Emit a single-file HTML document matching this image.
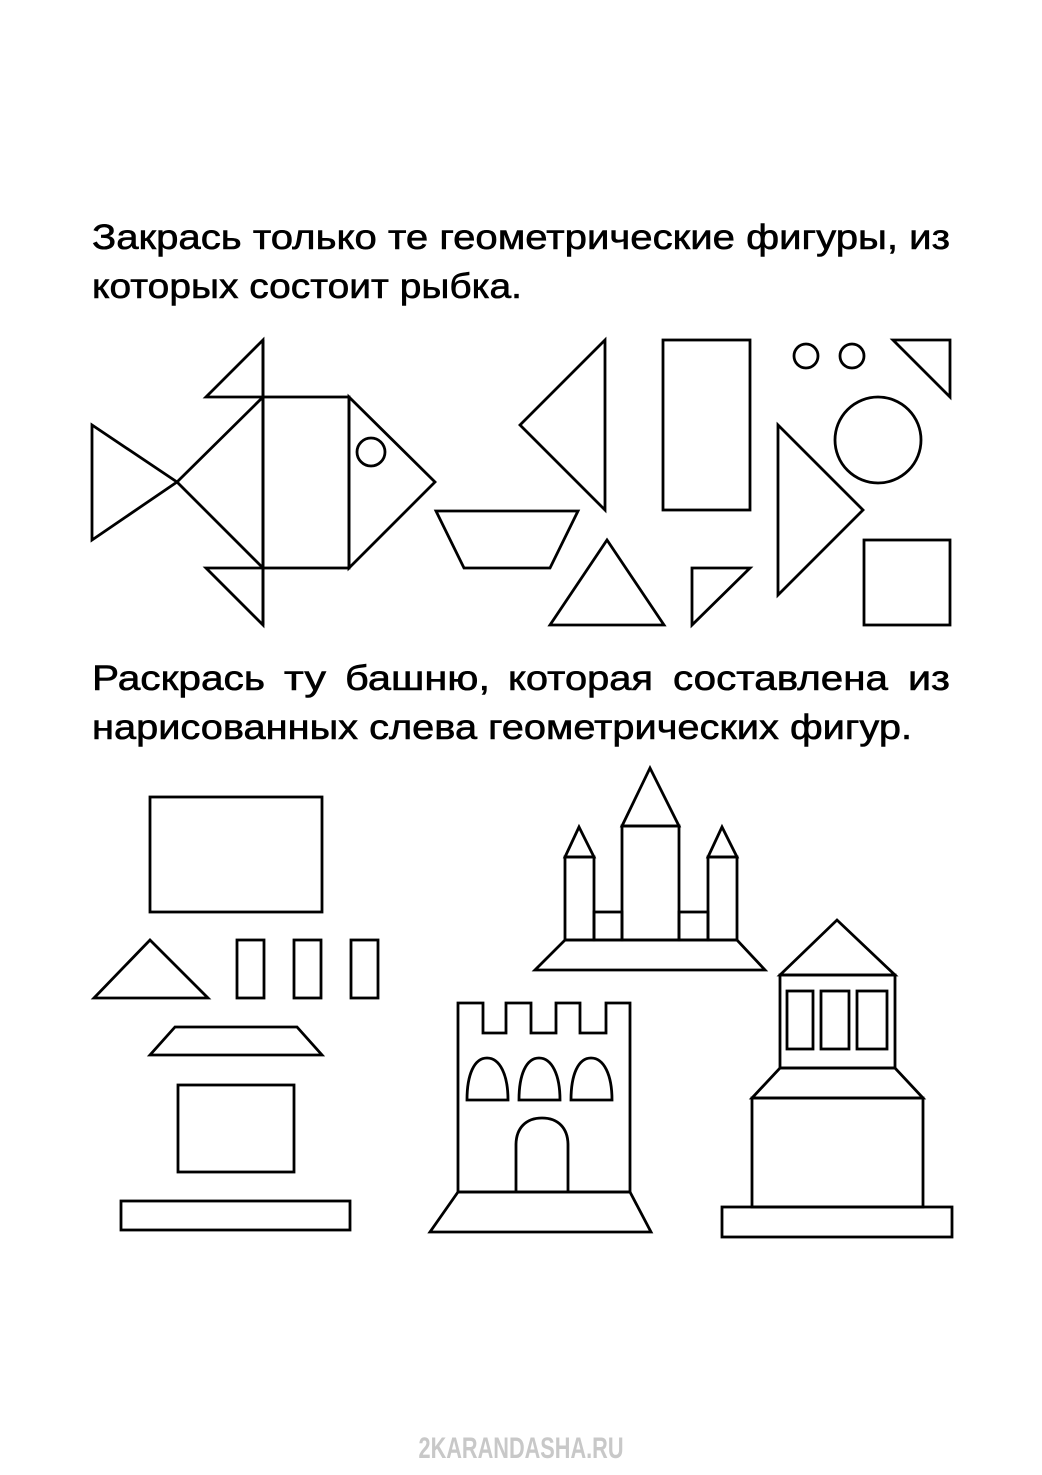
<!DOCTYPE html>
<html><head><meta charset="utf-8"><style>
html,body{margin:0;padding:0;background:#fff}
svg{display:block}
text{font-family:"Liberation Sans",sans-serif;font-size:35px;fill:#000;stroke:#000;stroke-width:0.6}
</style></head><body>
<svg width="1042" height="1475" viewBox="0 0 1042 1475" xmlns="http://www.w3.org/2000/svg">
<rect width="1042" height="1475" fill="#fff"/>
<text x="92" y="249" textLength="858" lengthAdjust="spacingAndGlyphs">Закрась только те геометрические фигуры, из</text>
<text x="92" y="298" textLength="430" lengthAdjust="spacingAndGlyphs">которых состоит рыбка.</text>
<text x="92" y="690" textLength="173" lengthAdjust="spacingAndGlyphs">Раскрась</text>
<text x="284" y="690" textLength="42" lengthAdjust="spacingAndGlyphs">ту</text>
<text x="345" y="690" textLength="145" lengthAdjust="spacingAndGlyphs">башню,</text>
<text x="508" y="690" textLength="145" lengthAdjust="spacingAndGlyphs">которая</text>
<text x="673" y="690" textLength="215" lengthAdjust="spacingAndGlyphs">составлена</text>
<text x="908" y="690" textLength="42" lengthAdjust="spacingAndGlyphs">из</text>
<text x="92" y="739" textLength="820" lengthAdjust="spacingAndGlyphs">нарисованных слева геометрических фигур.</text>
<g fill="none" stroke="#000" stroke-width="2.8" stroke-linejoin="miter">
<polygon points="92,425 92,540 177,482"/>
<line x1="263" y1="340" x2="263" y2="625"/>
<polygon points="263,340 206,397 263,397"/>
<polygon points="206,568 263,568 263,625"/>
<polygon points="263,397 263,568 177,482"/>
<rect x="263" y="397" width="86" height="171"/>
<polygon points="349,397 435,482 349,568"/>
<circle cx="371" cy="452" r="14"/>
<polygon points="436,511 578,511 550,568 464,568"/>
<polygon points="605,340 520,425 605,510"/>
<rect x="663" y="340" width="87" height="170"/>
<circle cx="806" cy="356" r="12"/>
<circle cx="852" cy="356" r="12"/>
<polygon points="893,340 950,340 950,397"/>
<circle cx="878" cy="440" r="43"/>
<polygon points="778,425 778,595 863,510"/>
<polygon points="550,625 664,625 607,540"/>
<polygon points="692,568 750,568 692,625"/>
<rect x="864" y="540" width="86" height="85"/>
<rect x="150" y="797" width="172" height="115"/>
<polygon points="94,998 208,998 150,940"/>
<rect x="237" y="940" width="27" height="58"/>
<rect x="294" y="940" width="27" height="58"/>
<rect x="351" y="940" width="27" height="58"/>
<polygon points="175,1027 297,1027 322,1055 150,1055"/>
<rect x="178" y="1085" width="116" height="87"/>
<rect x="121" y="1201" width="229" height="29"/>
<polygon points="622,826 650,768 679,826"/>
<rect x="622" y="826" width="57" height="114"/>
<polygon points="565,857 579,827 594,857"/>
<rect x="565" y="857" width="29" height="83"/>
<polygon points="708,857 722,827 737,857"/>
<rect x="708" y="857" width="29" height="83"/>
<rect x="594" y="912" width="28" height="28"/>
<rect x="679" y="912" width="29" height="28"/>
<polygon points="565,940 737,940 765,970 535,970"/>
<polygon points="458,1192 458,1003 483,1003 483,1033 506,1033 506,1003 531,1003 531,1033 556,1033 556,1003 580,1003 580,1033 606,1033 606,1003 630,1003 630,1192"/>
<path d="M467,1100 L508,1100 C508,1075 500,1058 487,1058 C474,1058 467,1075 467,1100 Z"/>
<path d="M519,1100 L560,1100 C560,1075 552,1058 539,1058 C526,1058 519,1075 519,1100 Z"/>
<path d="M571,1100 L612,1100 C612,1075 604,1058 591,1058 C578,1058 571,1075 571,1100 Z"/>
<path d="M516,1192 L516,1145 C516,1128 526,1118 542,1118 C558,1118 568,1128 568,1145 L568,1192"/>
<polygon points="458,1192 630,1192 651,1232 430,1232"/>
<polygon points="780,975 837,920 895,975"/>
<rect x="780" y="975" width="115" height="93"/>
<rect x="787" y="991" width="26" height="58"/>
<rect x="821" y="991" width="28" height="58"/>
<rect x="857" y="991" width="30" height="58"/>
<polygon points="780,1068 895,1068 923,1098 752,1098"/>
<rect x="752" y="1098" width="171" height="109"/>
<rect x="722" y="1207" width="230" height="30"/>
</g>
<text x="521" y="1458" text-anchor="middle" style="font-size:30px;font-weight:bold;fill:#c8c8c8;stroke:none" textLength="205" lengthAdjust="spacingAndGlyphs">2KARANDASHA.RU</text>
</svg>
</body></html>
